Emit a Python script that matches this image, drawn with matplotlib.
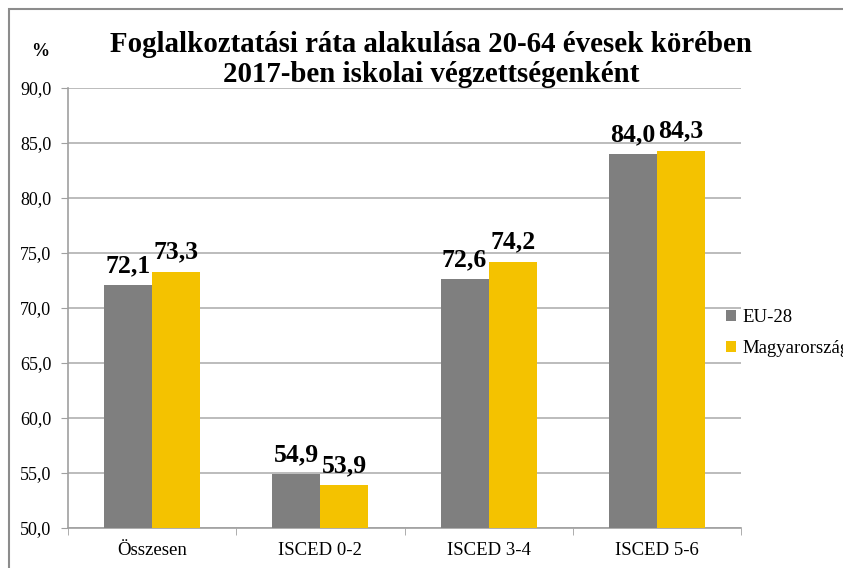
import matplotlib
matplotlib.use("Agg")
import matplotlib.pyplot as plt
import numpy as np
from matplotlib.patches import Rectangle

categories = ["Összesen", "ISCED 0-2", "ISCED 3-4", "ISCED 5-6"]
eu28 = [72.1, 54.9, 72.6, 84.0]
hu = [73.3, 53.9, 74.2, 84.3]
series_names = ["EU-28", "Magyarország"]
yticks = [50, 55, 60, 65, 70, 75, 80, 85, 90]

plt.rcParams['font.family'] = ['Liberation Serif', 'DejaVu Serif']

W, H = 843, 568
fig = plt.figure(figsize=(W / 100, H / 100), dpi=100)
ax = fig.add_axes([68 / W, 1 - 528 / H, (741 - 68) / W, (528 - 88) / H])

x = np.arange(len(categories))
bw = 0.286
gray = "#7F7F7F"
gold = "#F4C200"
b1 = ax.bar(x - bw / 2, eu28, bw, color=gray, label=series_names[0], zorder=3)
b2 = ax.bar(x + bw / 2, hu, bw, color=gold, label=series_names[1], zorder=3)

for bars, vals in ((b1, eu28), (b2, hu)):
    for r, v in zip(bars, vals):
        ax.annotate(f"{v:.1f}".replace(".", ","), (r.get_x() + r.get_width() / 2, v),
                    xytext=(0, 9.4), textcoords="offset points", ha="center", va="baseline",
                    fontsize=18.5, fontweight="bold", zorder=5)

ax.set_ylim(50, 90)
ax.set_xlim(-0.5, len(categories) - 0.5)
ax.set_yticks(yticks)
ax.set_yticklabels([f"{t:.1f}".replace(".", ",") for t in yticks], fontsize=13)
ax.set_xticks(x)
ax.set_xticklabels(categories, fontsize=13.5)
ax.tick_params(axis='x', length=0, pad=10)
ax.set_xticks(np.arange(-0.5, len(categories), 1), minor=True)
ax.tick_params(axis='x', which='minor', length=5, color="#A0A0A0", direction='out')
ax.tick_params(axis='y', length=5, color="#A0A0A0", direction='out', pad=7)
ax.yaxis.grid(True, color="#B0B0B0", linewidth=1.2, zorder=0)
ax.set_axisbelow(True)
for s in ("top", "right"):
    ax.spines[s].set_visible(False)
for s in ("left", "bottom"):
    ax.spines[s].set_color("#A0A0A0")
    ax.spines[s].set_linewidth(1.2)

fig.text(431 / W, 1 - 45 / H, "Foglalkoztatási ráta alakulása 20-64 évesek körében",
         ha="center", va="center", fontsize=20.8, fontweight="bold")
fig.text(431 / W, 1 - 75 / H, "2017-ben iskolai végzettségenként",
         ha="center", va="center", fontsize=20.8, fontweight="bold")
fig.text(40 / W, 1 - 52 / H, "%", ha="center", va="center", fontsize=13, fontweight="bold")

leg = fig.legend(handles=[b1, b2], labels=series_names, loc="upper left",
                 bbox_to_anchor=(726 / W, 1 - 309 / H), frameon=False, fontsize=13.5,
                 handlelength=0.55, handleheight=0.55, handletextpad=0.35, labelspacing=0.75,
                 borderaxespad=0, borderpad=0)

fig.patches.append(Rectangle((9 / W, -0.1), 1.2, 1 - 9 / H + 0.1, transform=fig.transFigure,
                             fill=False, edgecolor="#8C8C8C", linewidth=1.5))

fig.savefig("out.png", dpi=100)
